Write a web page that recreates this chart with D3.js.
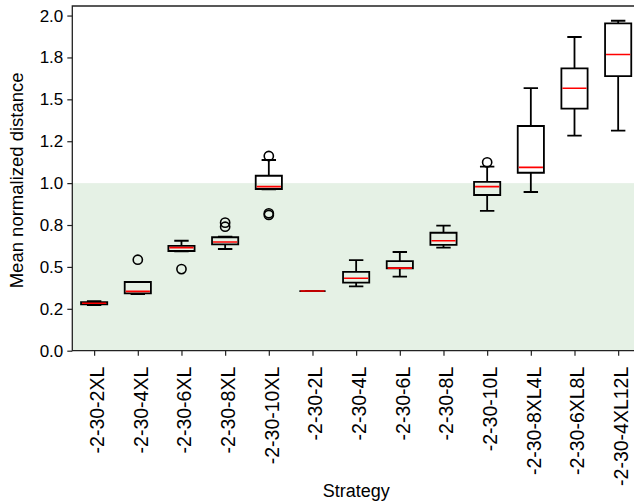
<!DOCTYPE html>
<html>
<head>
<meta charset="utf-8">
<script src="https://cdn.jsdelivr.net/npm/d3@7"></script>
<style>
  html, body { margin: 0; padding: 0; background: #fff; }
  svg { display: block; font-family: "Liberation Sans", Arial, Helvetica, sans-serif; }
</style>
</head>
<body>
<svg id="chart" width="634" height="502"></svg>
<script>
// Strategies along the x axis
const categories = ["-2-30-2XL", "-2-30-4XL", "-2-30-6XL", "-2-30-8XL", "-2-30-10XL",
  "-2-30-2L", "-2-30-4L", "-2-30-6L", "-2-30-8L", "-2-30-10L",
  "-2-30-8XL4L", "-2-30-6XL8L", "-2-30-4XL12L"];

// Box-plot summary statistics per strategy
const whiskerLow  = [0.272, 0.338, 0.593, 0.607, 0.963, 0.356, 0.384, 0.442, 0.615, 0.834, 0.947, 1.283, 1.313];
const q1          = [0.276, 0.342, 0.595, 0.635, 0.965, 0.356, 0.406, 0.492, 0.631, 0.929, 1.062, 1.444, 1.639];
const median      = [0.283, 0.354, 0.615, 0.649, 0.979, 0.356, 0.432, 0.493, 0.656, 0.979, 1.094, 1.566, 1.768];
const q3          = [0.290, 0.410, 0.626, 0.677, 1.044, 0.356, 0.470, 0.535, 0.704, 1.007, 1.341, 1.685, 1.953];
const whiskerHigh = [0.296, 0.410, 0.656, 0.680, 1.138, 0.356, 0.541, 0.589, 0.746, 1.098, 1.567, 1.872, 1.969];
const outliers    = [[], [0.543], [0.487], [0.740, 0.764], [0.810, 0.820, 1.162], [], [], [], [], [1.124], [], [], []];

// Shaded acceptable region
const bandLow = 0.0;
const bandHigh = 1.0;

// Y ticks and their printed labels
const yTickValues = [0.0, 0.25, 0.5, 0.75, 1.0, 1.25, 1.5, 1.75, 2.0];
const yTickLabels = ["0.0", "0.2", "0.5", "0.8", "1.0", "1.2", "1.5", "1.8", "2.0"];

const svg = d3.select("#chart");
const plotLeft = 72.3, plotRight = 640, plotTop = 6, plotBottom = 350.7;

const x = d3.scaleLinear().domain([0.5, categories.length + 0.5]).range([plotLeft, plotRight]);
const y = d3.scaleLinear().domain([0, 2.057]).range([plotBottom, plotTop]);

const boxW = (x(1.6) - x(1));
const capW = boxW * 0.55;

const plot = svg.append("g");
plot.append("clipPath").attr("id", "clip")
  .append("rect").attr("x", plotLeft).attr("y", plotTop)
  .attr("width", plotRight - plotLeft).attr("height", plotBottom - plotTop);

// Green band
plot.append("rect")
  .attr("x", plotLeft).attr("width", plotRight - plotLeft)
  .attr("y", y(bandHigh)).attr("height", y(bandLow) - y(bandHigh))
  .attr("fill", "#e5f1e5");

const data = categories.map((c, i) => ({
  c, pos: i + 1, lo: whiskerLow[i], q1: q1[i], med: median[i], q3: q3[i], hi: whiskerHigh[i], out: outliers[i]
}));

const g = plot.append("g").attr("clip-path", "url(#clip)");
const boxes = g.selectAll("g.box").data(data).join("g").attr("class", "box");

const lineStyle = sel => sel.attr("stroke", "#000").attr("stroke-width", 1.8).attr("fill", "none");

// Whiskers
boxes.append("line").call(lineStyle)
  .attr("x1", d => x(d.pos)).attr("x2", d => x(d.pos))
  .attr("y1", d => y(d.q3)).attr("y2", d => y(d.hi));
boxes.append("line").call(lineStyle)
  .attr("x1", d => x(d.pos)).attr("x2", d => x(d.pos))
  .attr("y1", d => y(d.q1)).attr("y2", d => y(d.lo));
// Caps
boxes.append("line").call(lineStyle)
  .attr("x1", d => x(d.pos) - capW / 2).attr("x2", d => x(d.pos) + capW / 2)
  .attr("y1", d => y(d.hi)).attr("y2", d => y(d.hi));
boxes.append("line").call(lineStyle)
  .attr("x1", d => x(d.pos) - capW / 2).attr("x2", d => x(d.pos) + capW / 2)
  .attr("y1", d => y(d.lo)).attr("y2", d => y(d.lo));
// Box body
boxes.append("path").call(lineStyle)
  .attr("d", d => {
    const x0 = x(d.pos) - boxW / 2, x1 = x(d.pos) + boxW / 2;
    return `M${x0},${y(d.q1)}L${x1},${y(d.q1)}L${x1},${y(d.q3)}L${x0},${y(d.q3)}Z`;
  });
// Median
boxes.append("line")
  .attr("stroke", "#ff0000").attr("stroke-width", 1.6)
  .attr("x1", d => x(d.pos) - boxW / 2 + 1).attr("x2", d => x(d.pos) + boxW / 2 - 1)
  .attr("y1", d => y(d.med)).attr("y2", d => y(d.med));
// Fliers
boxes.selectAll("circle").data(d => d.out.map(v => ({ pos: d.pos, v }))).join("circle")
  .attr("cx", d => x(d.pos)).attr("cy", d => y(d.v)).attr("r", 4.6)
  .attr("fill", "none").attr("stroke", "#000").attr("stroke-width", 1.6);

// Spines
const spine = "#222";
svg.append("path").attr("fill", "none").attr("stroke", spine).attr("stroke-width", 1.3)
  .attr("d", `M${plotRight},${plotTop}L${plotLeft},${plotTop}L${plotLeft},${plotBottom}L${plotRight},${plotBottom}`);

// Y axis
const yAxis = d3.axisLeft(y).tickValues(yTickValues).tickSize(5).tickPadding(4)
  .tickFormat((d, i) => yTickLabels[i]);
const yg = svg.append("g").attr("transform", `translate(${plotLeft},0)`).call(yAxis);
yg.select(".domain").remove();
yg.selectAll(".tick line").attr("stroke", spine).attr("stroke-width", 1.2);
yg.selectAll(".tick text").attr("font-size", 17).attr("fill", "#000")
  .attr("font-family", "Liberation Sans, Arial, sans-serif");

// X axis
const xAxis = d3.axisBottom(x).tickValues(data.map(d => d.pos)).tickSize(5)
  .tickFormat(i => categories[i - 1]);
const xg = svg.append("g").attr("transform", `translate(0,${plotBottom})`).call(xAxis);
xg.select(".domain").remove();
xg.selectAll(".tick line").attr("stroke", spine).attr("stroke-width", 1.2);
xg.selectAll(".tick text")
  .attr("font-size", 19.5).attr("fill", "#000")
  .attr("font-family", "Liberation Sans, Arial, sans-serif")
  .attr("text-anchor", "end")
  .attr("transform", "translate(0,16) rotate(-90)")
  .attr("x", 0).attr("y", 0).attr("dy", 9.5);

// Axis titles
svg.append("text").attr("x", (plotLeft + plotRight) / 2).attr("y", 497)
  .attr("text-anchor", "middle").attr("font-size", 18).text("Strategy");
svg.append("text")
  .attr("transform", `translate(23,${(plotTop + plotBottom) / 2 + 2}) rotate(-90)`)
  .attr("text-anchor", "middle").attr("font-size", 18.5).text("Mean normalized distance");
</script>
</body>
</html>
